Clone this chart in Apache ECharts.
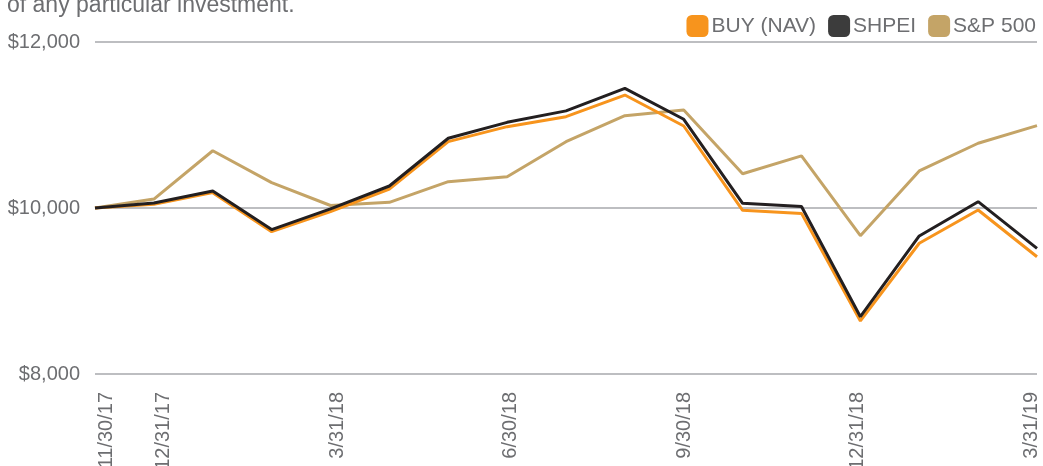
<!DOCTYPE html>
<html>
<head>
<meta charset="utf-8">
<script src="https://cdn.jsdelivr.net/npm/echarts@6/dist/echarts.min.js"></script>
<style>
html,body{margin:0;padding:0;background:#fff;}
#chart{width:1043px;height:466px;}
</style>
</head>
<body>
<div id="chart"></div>
<script>
const categories = ['11/30/17','12/31/17','1/31/18','2/28/18','3/31/18','4/30/18','5/31/18','6/30/18','7/31/18','8/31/18','9/30/18','10/31/18','11/30/18','12/31/18','1/31/19','2/28/19','3/31/19'];
const shownLabels = [0,1,4,7,10,13,16];
const buyNav = [10000,10045,10185,9715,9958,10229,10800,10980,11100,11361,10988,9972,9935,8639,9575,9976,9413];
const shpei  = [10000,10060,10205,9740,9990,10265,10840,11032,11170,11442,11069,10057,10018,8690,9663,10076,9514];
const sp500  = [10000,10108,10690,10305,10030,10068,10317,10377,10799,11112,11181,10413,10628,9666,10446,10780,10992];
const yTicks = [8000,10000,12000];

const font = '"Liberation Sans", Arial, Helvetica, sans-serif';
const textColor = '#6d6e71';
const chart = echarts.init(document.getElementById('chart'));
chart.setOption({
  animation: false,
  backgroundColor: '#fff',
  textStyle: {fontFamily: font},
  graphic: [{
    type: 'text', left: 7, top: -6,
    style: {text: 'of any particular investment.', fill: textColor, font: '23px ' + font}
  }],
  legend: {
    right: 2, top: 10,
    itemWidth: 22, itemHeight: 22, itemGap: 12,
    icon: 'roundRect',
    textStyle: {color: textColor, fontSize: 21, fontFamily: font, padding: [0,0,0,-2]},
    data: [
      {name: 'BUY (NAV)'},
      {name: 'SHPEI', itemStyle: {color: '#3c3c3c'}},
      {name: 'S&P 500'}
    ]
  },
  grid: [
    {left: 95, right: 6, top: 42, bottom: 92, containLabel: false, outerBoundsMode: 'none'},
    {left: 106, right: 12, top: 42, bottom: 92, containLabel: false, outerBoundsMode: 'none'}
  ],
  xAxis: [{
    type: 'category',
    gridIndex: 0,
    data: categories,
    boundaryGap: false,
    axisLine: {show: false},
    axisTick: {show: false},
    splitLine: {show: false},
    axisLabel: {show: false}
  }, {
    type: 'category',
    gridIndex: 1,
    data: categories,
    boundaryGap: false,
    axisLine: {show: false},
    axisTick: {show: false},
    splitLine: {show: false},
    axisLabel: {
      rotate: 90,
      margin: 18,
      color: textColor,
      fontSize: 20,
      fontFamily: font,
      interval: function (i) { return shownLabels.indexOf(i) >= 0; }
    }
  }],
  yAxis: [{
    type: 'value',
    gridIndex: 0,
    min: yTicks[0], max: yTicks[yTicks.length - 1], interval: 2000,
    axisLine: {show: false},
    axisTick: {show: false},
    splitLine: {lineStyle: {color: '#a7a9ac', width: 1.5}},
    axisLabel: {
      margin: 15,
      color: textColor,
      fontSize: 20,
      fontFamily: font,
      formatter: function (v) { return '$' + v.toLocaleString('en-US'); }
    }
  }, {
    type: 'value',
    gridIndex: 1,
    show: false,
    min: yTicks[0], max: yTicks[yTicks.length - 1]
  }],
  series: [
    {name: 'S&P 500', type: 'line', data: sp500, symbol: 'none', z: 2,
     itemStyle: {color: '#c4a467'}, lineStyle: {color: '#c4a467', width: 3}},
    {name: 'BUY (NAV)', type: 'line', data: buyNav, symbol: 'none', z: 3,
     itemStyle: {color: '#f7941d'}, lineStyle: {color: '#f7941d', width: 3}},
    {name: 'SHPEI', type: 'line', data: shpei, symbol: 'none', z: 4,
     itemStyle: {color: '#231f20'}, lineStyle: {color: '#231f20', width: 3}}
  ]
});
</script>
</body>
</html>
